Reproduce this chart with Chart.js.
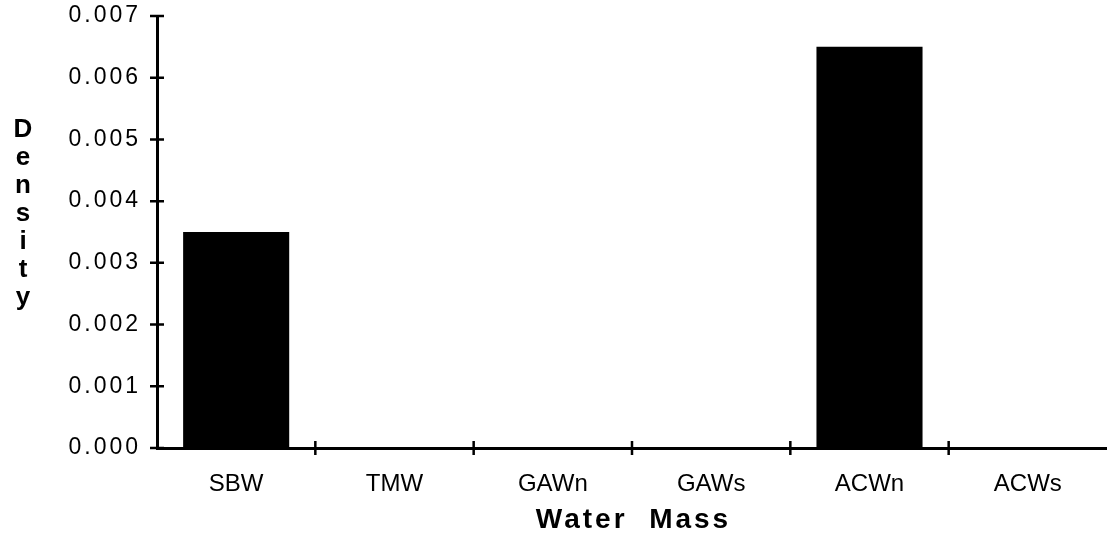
<!DOCTYPE html>
<html>
<head>
<meta charset="utf-8">
<script src="https://cdn.jsdelivr.net/npm/chart.js@4.4.1/dist/chart.umd.min.js"></script>
<style>
    html, body { margin: 0; padding: 0; background: #fff; }
    #wrap { width: 1107px; height: 536px; position: relative; }
</style>
</head>
<body>
<div id="wrap"><canvas id="densityChart"></canvas></div>
<script>
const waterMasses = ['SBW', 'TMW', 'GAWn', 'GAWs', 'ACWn', 'ACWs'];
const densityValues = [0.0035, 0, 0, 0, 0.0065, 0];
const yTicks = [0, 0.001, 0.002, 0.003, 0.004, 0.005, 0.006, 0.007];
const yTitleLetters = ['D', 'e', 'n', 's', 'i', 't', 'y'];
const xTitle = 'Water  Mass';

// tick marks across both axes + the two titles
const axisMarks = {
    id: 'axisMarks',
    beforeDraw(chart) {
        // y tick labels are spaced out in the original
        chart.ctx.letterSpacing = '3px';
    },
    beforeDatasetsDraw(chart) {
        // x labels are drawn after the bars (ticks.z = 1), tight
        chart.ctx.letterSpacing = '0px';
    },
    afterDraw(chart) {
        const ctx = chart.ctx;
        const x = chart.scales.x;
        const y = chart.scales.y;
        ctx.save();
        ctx.strokeStyle = '#000';
        ctx.lineWidth = 2.5;
        ctx.beginPath();
        yTicks.forEach(v => {
            const py = y.getPixelForValue(v);
            ctx.moveTo(x.left - 7, py);
            ctx.lineTo(x.left + 7, py);
        });
        const step = x.getPixelForValue(1) - x.getPixelForValue(0);
        for (let i = 1; i < waterMasses.length; i++) {
            const px = x.getPixelForValue(i) - step / 2;
            ctx.moveTo(px, y.bottom - 7);
            ctx.lineTo(px, y.bottom + 7);
        }
        ctx.stroke();

        ctx.fillStyle = '#000';
        ctx.textAlign = 'center';
        ctx.textBaseline = 'alphabetic';
        ctx.letterSpacing = '0px';
        ctx.font = 'bold 26px "Liberation Sans"';
        yTitleLetters.forEach((ch, i) => {
            ctx.fillText(ch, 23, 137 + i * 28);
        });
        ctx.font = 'bold 28px "Liberation Sans"';
        ctx.letterSpacing = '3px';
        ctx.fillText(xTitle, (x.left + x.right) / 2 + 1.5, 528);
        ctx.restore();
        ctx.letterSpacing = '0px';
    }
};

document.addEventListener('DOMContentLoaded', () => {
    const ctx = document.getElementById('densityChart').getContext('2d');
    Chart.defaults.font.family = "'Liberation Sans'";

    new Chart(ctx, {
        type: 'bar',
        data: {
            labels: waterMasses,
            datasets: [{
                data: densityValues,
                backgroundColor: '#000',
                borderWidth: 0,
                barPercentage: 0.67,
                categoryPercentage: 1
            }]
        },
        options: {
            responsive: true,
            maintainAspectRatio: false,
            animation: false,
            layout: { padding: { top: 16, right: 0, bottom: 0, left: 0 } },
            plugins: {
                legend: { display: false },
                tooltip: { enabled: false }
            },
            scales: {
                x: {
                    offset: true,
                    grid: { display: false, drawTicks: false },
                    border: { color: '#000', width: 3 },
                    ticks: {
                        z: 1,
                        color: '#000',
                        font: { size: 24 },
                        padding: 22,
                        maxRotation: 0,
                        autoSkip: false
                    },
                    afterFit: s => {
                        s.height = 88;
                        s.paddingLeft = 0;
                        s.paddingRight = 0;
                    }
                },
                y: {
                    min: 0,
                    max: 0.007,
                    grid: { display: false, drawTicks: false },
                    border: { color: '#000', width: 3 },
                    ticks: {
                        color: '#000',
                        font: { size: 23 },
                        padding: 16,
                        callback: v => v.toFixed(3)
                    },
                    afterBuildTicks: s => { s.ticks = yTicks.map(v => ({ value: v })); },
                    afterFit: s => {
                        s.width = 157;
                        s.paddingTop = 0;
                        s.paddingBottom = 0;
                    }
                }
            }
        },
        plugins: [axisMarks]
    });
});
</script>
</body>
</html>
